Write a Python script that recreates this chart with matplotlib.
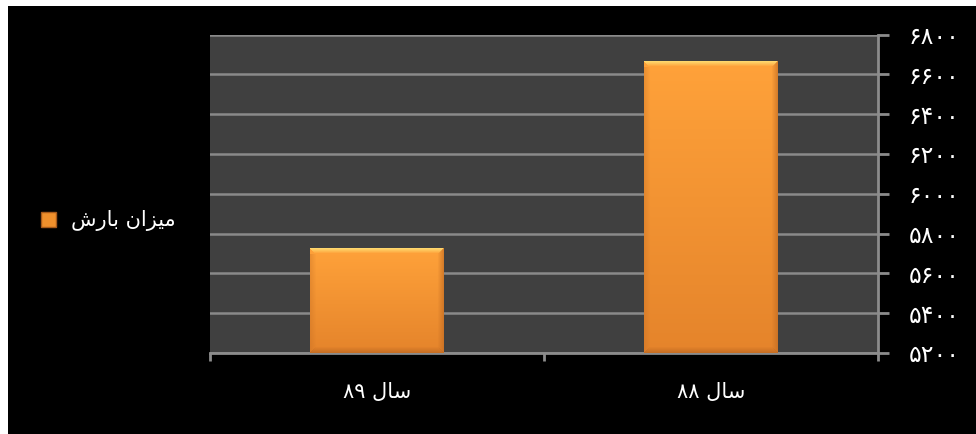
import re
import numpy as np
import matplotlib
matplotlib.use('Agg')
import matplotlib.pyplot as plt
from matplotlib.patches import Patch, Rectangle

# data
years = ['سال ۸۹', 'سال ۸۸']
rainfall = [5727, 6665]
series_name = 'میزان بارش'
y_ticks = [5200, 5400, 5600, 5800, 6000, 6200, 6400, 6600, 6800]

# tiny arabic shaper (matplotlib has no bidi / joining)
FORMS = {
    'م': ('\uFEE1', '\uFEE2', '\uFEE3', '\uFEE4'),
    'ی': ('\uFEEF', '\uFEF0', '\uFEF3', '\uFEF4'),
    'ز': ('\uFEAF', '\uFEB0', None, None),
    'ا': ('\uFE8D', '\uFE8E', None, None),
    'ن': ('\uFEE5', '\uFEE6', '\uFEE7', '\uFEE8'),
    'ب': ('\uFE8F', '\uFE90', '\uFE91', '\uFE92'),
    'ر': ('\uFEAD', '\uFEAE', None, None),
    'ش': ('\uFEB5', '\uFEB6', '\uFEB7', '\uFEB8'),
    'س': ('\uFEB1', '\uFEB2', '\uFEB3', '\uFEB4'),
    'ل': ('\uFEDD', '\uFEDE', '\uFEDF', '\uFEE0'),
}


def dual(c):
    return c in FORMS and FORMS[c][2] is not None


def shape(txt):
    out = []
    for i, c in enumerate(txt):
        if c not in FORMS:
            out.append(c)
            continue
        prev = txt[i - 1] if i > 0 else ''
        nxt = txt[i + 1] if i + 1 < len(txt) else ''
        jp = dual(prev)
        jn = dual(c) and nxt in FORMS
        iso, fin, ini, med = FORMS[c]
        if jp and jn:
            out.append(med)
        elif jp:
            out.append(fin)
        elif jn:
            out.append(ini)
        else:
            out.append(iso)
    s = ''.join(out)
    # visual order: reverse runs, keep digit runs left-to-right
    tokens = re.findall(r'[0-9\u06F0-\u06F9]+|[^0-9\u06F0-\u06F9]+', s)
    vis = []
    for t in reversed(tokens):
        if re.fullmatch(r'[0-9\u06F0-\u06F9]+', t):
            vis.append(t)
        else:
            vis.append(t[::-1])
    return ''.join(vis)


def fa_digits(v):
    return str(int(v)).translate(str.maketrans('0123456789', '۰۱۲۳۴۵۶۷۸۹'))


def hex2rgb(h):
    h = h.lstrip('#')
    return np.array([int(h[i:i + 2], 16) / 255 for i in (0, 2, 4)])


def bar_image(h_px, w_px):
    top = hex2rgb('#ffa23a')
    bot = hex2rgb('#e5842b')
    t = np.linspace(0, 1, h_px)[:, None, None]
    img = top * (1 - t) + bot * t
    img = np.repeat(img, w_px, axis=1)
    # bevel
    hi = hex2rgb('#ffd86e')
    for k in range(5):
        a = 1 - k / 5
        img[k, k:w_px - k] = hi * a + img[k, k:w_px - k] * (1 - a)
    dark = hex2rgb('#c06a22')
    for k in range(6):
        a = (1 - k / 6) * 0.8
        img[h_px - 1 - k, k:w_px - k] = dark * a + img[h_px - 1 - k, k:w_px - k] * (1 - a)
        img[k:h_px - k, w_px - 1 - k] = dark * a * 0.8 + img[k:h_px - k, w_px - 1 - k] * (1 - a * 0.8)
        img[6:h_px - k, k] = dark * a * 0.4 + img[6:h_px - k, k] * (1 - a * 0.4)
    return np.clip(img, 0, 1)


plt.rcParams['font.family'] = ['DejaVu Sans']

fig = plt.figure(figsize=(9.76, 4.34), dpi=100, facecolor='white')
fig.patches.append(Rectangle((8 / 976, 0), 1, 1 - 6 / 434, transform=fig.transFigure,
                             facecolor='black', edgecolor='none', zorder=-10))

ax = fig.add_axes([210 / 976, (434 - 353) / 434, 668 / 976, (353 - 34.5) / 434])
ax.set_facecolor('#404040')

x = np.arange(len(years))
bw = 0.4
bars = ax.bar(x, np.array(rainfall) - y_ticks[0], bw, bottom=y_ticks[0],
              color='#f7962e', edgecolor='none', zorder=3)

plot_h_px = 353 - 34.5
for b, v in zip(bars, rainfall):
    h_px = max(int(round((v - y_ticks[0]) / (y_ticks[-1] - y_ticks[0]) * plot_h_px)), 12)
    img = bar_image(h_px, 133)
    x0 = b.get_x()
    im = ax.imshow(img, extent=(x0, x0 + bw, y_ticks[0], v), origin='upper',
                   aspect='auto', zorder=4, interpolation='bilinear')
    im.set_clip_path(b)

ax.set_xlim(-0.5, len(years) - 0.5)
ax.set_ylim(y_ticks[0], y_ticks[-1])

# axes styling
ax.yaxis.tick_right()
ax.set_yticks(y_ticks)
ax.set_yticklabels([fa_digits(v) for v in y_ticks])
ax.tick_params(axis='y', colors='#8c8c8c', length=8, width=2, pad=14,
               labelcolor='white', labelsize=17)
ax.grid(axis='y', color='#8a8a8a', linewidth=1.8, zorder=1)
ax.set_axisbelow(True)

ax.set_xticks(np.arange(-0.5, len(years)), minor=False)
ax.set_xticklabels([''] * (len(years) + 1))
ax.set_xticks(x, minor=True)
ax.set_xticklabels([shape(s) for s in years], minor=True)
ax.tick_params(axis='x', which='major', colors='#8c8c8c', length=6, width=2)
ax.tick_params(axis='x', which='minor', length=0, pad=21, labelcolor='white', labelsize=15)

for s in ['left', 'top']:
    ax.spines[s].set_visible(False)
for s in ['right', 'bottom']:
    ax.spines[s].set_color('#8c8c8c')
    ax.spines[s].set_linewidth(2)

handle = Patch(facecolor='#f0902c', edgecolor='#a85a1a', linewidth=1)
leg = fig.legend([handle], [shape(series_name)], loc='center left',
                 bbox_to_anchor=(22 / 976, 1 - 221 / 434), frameon=False,
                 fontsize=15, labelcolor='white', handlelength=0.75, handleheight=0.75,
                 handletextpad=0.7)

fig.savefig('out.png', dpi=100, facecolor=fig.get_facecolor())
